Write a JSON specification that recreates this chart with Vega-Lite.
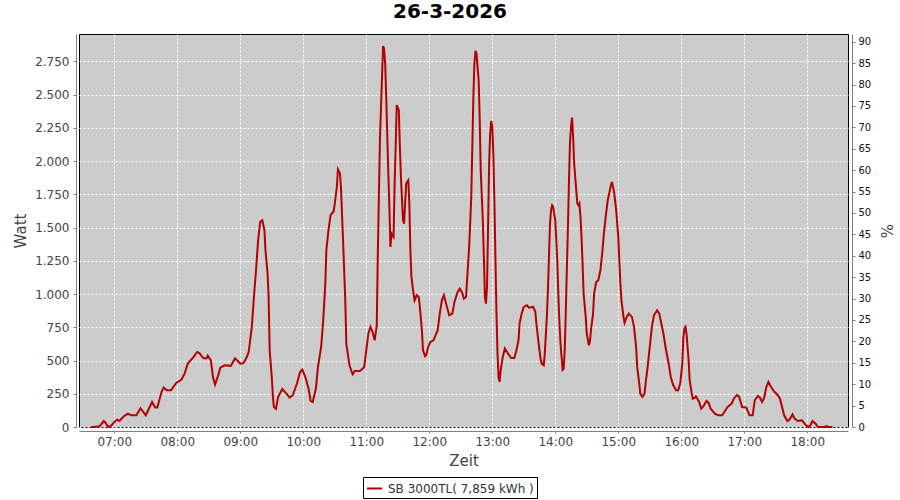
{
  "$schema": "https://vega.github.io/schema/vega-lite/v6.json",
  "autosize": {"type": "none"},
  "width": 769,
  "height": 393,
  "padding": {"left": 79, "top": 34, "right": 52, "bottom": 73},
  "background": "white",
  "title": {"text": "26-3-2026", "fontSize": 20, "fontWeight": "bold", "font": "DejaVu Sans", "color": "black", "anchor": "middle", "frame": "group", "offset": 12, "dx": -13.5},
  "config": {
    "view": {"stroke": "black", "strokeWidth": 1, "fill": "#cccccc"},
    "font": "DejaVu Sans",
    "axis": {
      "gridColor": "white", "gridDash": [2, 2], "gridWidth": 1, "gridOpacity": 1,
      "domainColor": "#808080", "tickColor": "#808080",
      "labelFont": "DejaVu Sans", "labelFontSize": 12, "labelColor": "#444444",
      "titleFont": "DejaVu Sans", "titleFontSize": 15, "titleFontWeight": "normal", "titleColor": "#444444"
    }
  },
  "layer": [
    {
      "data": {
        "values": [
          {"t":"2026-03-26T06:38","w":0},{"t":"2026-03-26T06:40","w":0},{"t":"2026-03-26T06:46","w":5},{"t":"2026-03-26T06:50","w":45},{"t":"2026-03-26T06:52","w":30},{"t":"2026-03-26T06:54","w":0},{"t":"2026-03-26T06:57","w":10},
          {"t":"2026-03-26T07:01","w":45},{"t":"2026-03-26T07:03","w":55},{"t":"2026-03-26T07:05","w":45},{"t":"2026-03-26T07:09","w":80},{"t":"2026-03-26T07:13","w":100},{"t":"2026-03-26T07:16","w":88},{"t":"2026-03-26T07:21","w":88},{"t":"2026-03-26T07:25","w":141},{"t":"2026-03-26T07:30","w":88},{"t":"2026-03-26T07:36","w":188},{"t":"2026-03-26T07:39","w":146},{"t":"2026-03-26T07:41","w":146},{"t":"2026-03-26T07:45","w":263},{"t":"2026-03-26T07:47","w":296},{"t":"2026-03-26T07:50","w":276},{"t":"2026-03-26T07:54","w":276},{"t":"2026-03-26T07:59","w":331},
          {"t":"2026-03-26T08:04","w":357},{"t":"2026-03-26T08:07","w":401},{"t":"2026-03-26T08:10","w":477},{"t":"2026-03-26T08:15","w":522},{"t":"2026-03-26T08:19","w":564},{"t":"2026-03-26T08:21","w":556},{"t":"2026-03-26T08:25","w":517},{"t":"2026-03-26T08:28","w":517},{"t":"2026-03-26T08:29","w":537},{"t":"2026-03-26T08:32","w":502},{"t":"2026-03-26T08:34","w":376},{"t":"2026-03-26T08:36","w":319},{"t":"2026-03-26T08:39","w":389},{"t":"2026-03-26T08:41","w":447},{"t":"2026-03-26T08:45","w":464},{"t":"2026-03-26T08:51","w":460},{"t":"2026-03-26T08:55","w":517},{"t":"2026-03-26T08:57","w":502},
          {"t":"2026-03-26T09:00","w":477},{"t":"2026-03-26T09:03","w":480},{"t":"2026-03-26T09:06","w":522},{"t":"2026-03-26T09:08","w":564},{"t":"2026-03-26T09:11","w":753},{"t":"2026-03-26T09:13","w":978},{"t":"2026-03-26T09:15","w":1179},{"t":"2026-03-26T09:17","w":1405},{"t":"2026-03-26T09:19","w":1543},{"t":"2026-03-26T09:21","w":1555},{"t":"2026-03-26T09:23","w":1480},{"t":"2026-03-26T09:24","w":1330},{"t":"2026-03-26T09:26","w":1154},{"t":"2026-03-26T09:27","w":978},{"t":"2026-03-26T09:28","w":577},{"t":"2026-03-26T09:30","w":376},{"t":"2026-03-26T09:31","w":239},{"t":"2026-03-26T09:32","w":150},{"t":"2026-03-26T09:34","w":136},{"t":"2026-03-26T09:36","w":226},{"t":"2026-03-26T09:40","w":286},{"t":"2026-03-26T09:44","w":251},{"t":"2026-03-26T09:47","w":221},{"t":"2026-03-26T09:50","w":239},{"t":"2026-03-26T09:54","w":327},{"t":"2026-03-26T09:57","w":414},{"t":"2026-03-26T09:59","w":432},
          {"t":"2026-03-26T10:02","w":376},{"t":"2026-03-26T10:05","w":289},{"t":"2026-03-26T10:07","w":196},{"t":"2026-03-26T10:09","w":188},{"t":"2026-03-26T10:12","w":289},{"t":"2026-03-26T10:14","w":452},{"t":"2026-03-26T10:17","w":602},{"t":"2026-03-26T10:19","w":803},{"t":"2026-03-26T10:21","w":1079},{"t":"2026-03-26T10:22","w":1330},{"t":"2026-03-26T10:24","w":1480},{"t":"2026-03-26T10:26","w":1593},{"t":"2026-03-26T10:29","w":1623},{"t":"2026-03-26T10:30","w":1681},{"t":"2026-03-26T10:32","w":1806},{"t":"2026-03-26T10:33","w":1937},{"t":"2026-03-26T10:35","w":1907},{"t":"2026-03-26T10:36","w":1781},{"t":"2026-03-26T10:38","w":1380},{"t":"2026-03-26T10:40","w":953},{"t":"2026-03-26T10:41","w":627},{"t":"2026-03-26T10:44","w":464},{"t":"2026-03-26T10:47","w":397},{"t":"2026-03-26T10:49","w":421},{"t":"2026-03-26T10:54","w":421},{"t":"2026-03-26T10:58","w":450},
          {"t":"2026-03-26T11:00","w":577},{"t":"2026-03-26T11:02","w":703},{"t":"2026-03-26T11:04","w":753},{"t":"2026-03-26T11:06","w":715},{"t":"2026-03-26T11:08","w":652},{"t":"2026-03-26T11:10","w":765},{"t":"2026-03-26T11:11","w":1305},{"t":"2026-03-26T11:12","w":1731},{"t":"2026-03-26T11:13","w":2157},{"t":"2026-03-26T11:15","w":2634},{"t":"2026-03-26T11:16","w":2865},{"t":"2026-03-26T11:17","w":2847},{"t":"2026-03-26T11:18","w":2734},{"t":"2026-03-26T11:19","w":2483},{"t":"2026-03-26T11:21","w":1907},{"t":"2026-03-26T11:22","w":1656},{"t":"2026-03-26T11:23","w":1355},{"t":"2026-03-26T11:24","w":1455},{"t":"2026-03-26T11:26","w":1430},{"t":"2026-03-26T11:27","w":1831},{"t":"2026-03-26T11:28","w":2107},{"t":"2026-03-26T11:29","w":2421},{"t":"2026-03-26T11:31","w":2383},{"t":"2026-03-26T11:32","w":2107},{"t":"2026-03-26T11:33","w":1881},{"t":"2026-03-26T11:35","w":1555},{"t":"2026-03-26T11:36","w":1530},{"t":"2026-03-26T11:37","w":1681},{"t":"2026-03-26T11:38","w":1831},{"t":"2026-03-26T11:40","w":1856},{"t":"2026-03-26T11:41","w":1681},{"t":"2026-03-26T11:42","w":1330},{"t":"2026-03-26T11:43","w":1129},{"t":"2026-03-26T11:45","w":1004},{"t":"2026-03-26T11:46","w":953},{"t":"2026-03-26T11:48","w":991},{"t":"2026-03-26T11:50","w":978},{"t":"2026-03-26T11:51","w":903},{"t":"2026-03-26T11:53","w":728},{"t":"2026-03-26T11:54","w":577},{"t":"2026-03-26T11:56","w":532},{"t":"2026-03-26T11:57","w":540},{"t":"2026-03-26T11:59","w":602},
          {"t":"2026-03-26T12:01","w":640},{"t":"2026-03-26T12:04","w":652},{"t":"2026-03-26T12:08","w":728},{"t":"2026-03-26T12:10","w":853},{"t":"2026-03-26T12:12","w":953},{"t":"2026-03-26T12:14","w":991},{"t":"2026-03-26T12:16","w":928},{"t":"2026-03-26T12:19","w":840},{"t":"2026-03-26T12:22","w":853},{"t":"2026-03-26T12:24","w":941},{"t":"2026-03-26T12:27","w":1016},{"t":"2026-03-26T12:29","w":1041},{"t":"2026-03-26T12:31","w":1016},{"t":"2026-03-26T12:33","w":966},{"t":"2026-03-26T12:35","w":978},{"t":"2026-03-26T12:36","w":1104},{"t":"2026-03-26T12:38","w":1355},{"t":"2026-03-26T12:40","w":1731},{"t":"2026-03-26T12:41","w":2107},{"t":"2026-03-26T12:42","w":2483},{"t":"2026-03-26T12:43","w":2734},{"t":"2026-03-26T12:44","w":2829},{"t":"2026-03-26T12:45","w":2809},{"t":"2026-03-26T12:47","w":2609},{"t":"2026-03-26T12:48","w":2333},{"t":"2026-03-26T12:49","w":1932},{"t":"2026-03-26T12:51","w":1555},{"t":"2026-03-26T12:52","w":1279},{"t":"2026-03-26T12:53","w":978},{"t":"2026-03-26T12:54","w":928},{"t":"2026-03-26T12:55","w":1054},{"t":"2026-03-26T12:56","w":1500},{"t":"2026-03-26T12:57","w":1982},{"t":"2026-03-26T12:58","w":2208},{"t":"2026-03-26T12:59","w":2303},
          {"t":"2026-03-26T13:00","w":2258},{"t":"2026-03-26T13:01","w":2069},{"t":"2026-03-26T13:02","w":1706},{"t":"2026-03-26T13:03","w":1279},{"t":"2026-03-26T13:04","w":853},{"t":"2026-03-26T13:05","w":552},{"t":"2026-03-26T13:06","w":376},{"t":"2026-03-26T13:07","w":340},{"t":"2026-03-26T13:08","w":427},{"t":"2026-03-26T13:10","w":527},{"t":"2026-03-26T13:12","w":590},{"t":"2026-03-26T13:15","w":552},{"t":"2026-03-26T13:18","w":519},{"t":"2026-03-26T13:21","w":519},{"t":"2026-03-26T13:23","w":577},{"t":"2026-03-26T13:25","w":652},{"t":"2026-03-26T13:26","w":778},{"t":"2026-03-26T13:28","w":853},{"t":"2026-03-26T13:30","w":903},{"t":"2026-03-26T13:33","w":916},{"t":"2026-03-26T13:35","w":897},{"t":"2026-03-26T13:39","w":903},{"t":"2026-03-26T13:41","w":866},{"t":"2026-03-26T13:42","w":778},{"t":"2026-03-26T13:44","w":640},{"t":"2026-03-26T13:46","w":515},{"t":"2026-03-26T13:47","w":477},{"t":"2026-03-26T13:49","w":464},{"t":"2026-03-26T13:50","w":552},{"t":"2026-03-26T13:52","w":828},{"t":"2026-03-26T13:53","w":1029},{"t":"2026-03-26T13:54","w":1279},{"t":"2026-03-26T13:55","w":1530},{"t":"2026-03-26T13:56","w":1631},{"t":"2026-03-26T13:57","w":1668},{"t":"2026-03-26T13:58","w":1656},
          {"t":"2026-03-26T14:00","w":1555},{"t":"2026-03-26T14:01","w":1405},{"t":"2026-03-26T14:02","w":1229},{"t":"2026-03-26T14:03","w":978},{"t":"2026-03-26T14:04","w":778},{"t":"2026-03-26T14:05","w":627},{"t":"2026-03-26T14:07","w":430},{"t":"2026-03-26T14:08","w":439},{"t":"2026-03-26T14:09","w":577},{"t":"2026-03-26T14:10","w":853},{"t":"2026-03-26T14:11","w":1179},{"t":"2026-03-26T14:12","w":1480},{"t":"2026-03-26T14:13","w":1831},{"t":"2026-03-26T14:14","w":2133},{"t":"2026-03-26T14:15","w":2258},{"t":"2026-03-26T14:16","w":2328},{"t":"2026-03-26T14:17","w":2182},{"t":"2026-03-26T14:18","w":1982},{"t":"2026-03-26T14:20","w":1781},{"t":"2026-03-26T14:21","w":1681},{"t":"2026-03-26T14:22","w":1668},{"t":"2026-03-26T14:23","w":1681},{"t":"2026-03-26T14:24","w":1580},{"t":"2026-03-26T14:25","w":1430},{"t":"2026-03-26T14:26","w":1229},{"t":"2026-03-26T14:27","w":1004},{"t":"2026-03-26T14:29","w":828},{"t":"2026-03-26T14:30","w":703},{"t":"2026-03-26T14:32","w":615},{"t":"2026-03-26T14:33","w":640},{"t":"2026-03-26T14:34","w":728},{"t":"2026-03-26T14:36","w":853},{"t":"2026-03-26T14:37","w":1004},{"t":"2026-03-26T14:39","w":1091},{"t":"2026-03-26T14:41","w":1104},{"t":"2026-03-26T14:43","w":1179},{"t":"2026-03-26T14:45","w":1330},{"t":"2026-03-26T14:46","w":1430},{"t":"2026-03-26T14:48","w":1580},{"t":"2026-03-26T14:50","w":1706},{"t":"2026-03-26T14:53","w":1818},{"t":"2026-03-26T14:54","w":1844},{"t":"2026-03-26T14:56","w":1768},{"t":"2026-03-26T14:58","w":1631},
          {"t":"2026-03-26T15:00","w":1430},{"t":"2026-03-26T15:01","w":1254},{"t":"2026-03-26T15:02","w":1079},{"t":"2026-03-26T15:03","w":953},{"t":"2026-03-26T15:05","w":828},{"t":"2026-03-26T15:06","w":783},{"t":"2026-03-26T15:08","w":828},{"t":"2026-03-26T15:10","w":853},{"t":"2026-03-26T15:13","w":828},{"t":"2026-03-26T15:15","w":753},{"t":"2026-03-26T15:17","w":602},{"t":"2026-03-26T15:18","w":452},{"t":"2026-03-26T15:20","w":327},{"t":"2026-03-26T15:21","w":251},{"t":"2026-03-26T15:23","w":226},{"t":"2026-03-26T15:25","w":251},{"t":"2026-03-26T15:26","w":327},{"t":"2026-03-26T15:28","w":452},{"t":"2026-03-26T15:30","w":602},{"t":"2026-03-26T15:32","w":753},{"t":"2026-03-26T15:34","w":840},{"t":"2026-03-26T15:37","w":878},{"t":"2026-03-26T15:39","w":853},{"t":"2026-03-26T15:41","w":778},{"t":"2026-03-26T15:43","w":703},{"t":"2026-03-26T15:45","w":602},{"t":"2026-03-26T15:48","w":477},{"t":"2026-03-26T15:50","w":376},{"t":"2026-03-26T15:52","w":321},{"t":"2026-03-26T15:55","w":276},{"t":"2026-03-26T15:57","w":276},{"t":"2026-03-26T15:59","w":327},
          {"t":"2026-03-26T16:01","w":477},{"t":"2026-03-26T16:02","w":677},{"t":"2026-03-26T16:03","w":740},{"t":"2026-03-26T16:04","w":753},{"t":"2026-03-26T16:05","w":703},{"t":"2026-03-26T16:07","w":502},{"t":"2026-03-26T16:08","w":352},{"t":"2026-03-26T16:10","w":251},{"t":"2026-03-26T16:11","w":213},{"t":"2026-03-26T16:13","w":221},{"t":"2026-03-26T16:14","w":231},{"t":"2026-03-26T16:17","w":188},{"t":"2026-03-26T16:19","w":138},{"t":"2026-03-26T16:21","w":155},{"t":"2026-03-26T16:24","w":196},{"t":"2026-03-26T16:26","w":181},{"t":"2026-03-26T16:28","w":138},{"t":"2026-03-26T16:32","w":100},{"t":"2026-03-26T16:35","w":88},{"t":"2026-03-26T16:39","w":88},{"t":"2026-03-26T16:41","w":113},{"t":"2026-03-26T16:44","w":150},{"t":"2026-03-26T16:48","w":176},{"t":"2026-03-26T16:50","w":213},{"t":"2026-03-26T16:53","w":240},{"t":"2026-03-26T16:55","w":230},{"t":"2026-03-26T16:58","w":150},
          {"t":"2026-03-26T17:02","w":146},{"t":"2026-03-26T17:05","w":88},{"t":"2026-03-26T17:08","w":88},{"t":"2026-03-26T17:10","w":201},{"t":"2026-03-26T17:13","w":233},{"t":"2026-03-26T17:15","w":220},{"t":"2026-03-26T17:17","w":188},{"t":"2026-03-26T17:19","w":220},{"t":"2026-03-26T17:21","w":301},{"t":"2026-03-26T17:23","w":339},{"t":"2026-03-26T17:25","w":309},{"t":"2026-03-26T17:28","w":271},{"t":"2026-03-26T17:32","w":239},{"t":"2026-03-26T17:34","w":213},{"t":"2026-03-26T17:36","w":150},{"t":"2026-03-26T17:38","w":88},{"t":"2026-03-26T17:41","w":45},{"t":"2026-03-26T17:43","w":55},{"t":"2026-03-26T17:46","w":95},{"t":"2026-03-26T17:48","w":63},{"t":"2026-03-26T17:51","w":45},{"t":"2026-03-26T17:55","w":50},{"t":"2026-03-26T17:58","w":20},
          {"t":"2026-03-26T18:01","w":0},{"t":"2026-03-26T18:03","w":13},{"t":"2026-03-26T18:05","w":45},{"t":"2026-03-26T18:08","w":25},{"t":"2026-03-26T18:10","w":0},{"t":"2026-03-26T18:17","w":0},{"t":"2026-03-26T18:18","w":8},{"t":"2026-03-26T18:20","w":0},{"t":"2026-03-26T18:24","w":0}
        ]
      },
      "mark": {"type": "line", "strokeWidth": 2},
      "encoding": {
        "x": {
          "field": "t", "type": "temporal",
          "scale": {"domain": [{"year": 2026, "month": 3, "date": 26, "hours": 6, "minutes": 26, "seconds": 24}, {"year": 2026, "month": 3, "date": 26, "hours": 18, "minutes": 38, "seconds": 48}], "nice": false},
          "axis": {"title": "Zeit", "format": "%H:%M", "values": [
            {"year": 2026, "month": 3, "date": 26, "hours": 7}, {"year": 2026, "month": 3, "date": 26, "hours": 8}, {"year": 2026, "month": 3, "date": 26, "hours": 9}, {"year": 2026, "month": 3, "date": 26, "hours": 10}, {"year": 2026, "month": 3, "date": 26, "hours": 11}, {"year": 2026, "month": 3, "date": 26, "hours": 12}, {"year": 2026, "month": 3, "date": 26, "hours": 13}, {"year": 2026, "month": 3, "date": 26, "hours": 14}, {"year": 2026, "month": 3, "date": 26, "hours": 15}, {"year": 2026, "month": 3, "date": 26, "hours": 16}, {"year": 2026, "month": 3, "date": 26, "hours": 17}, {"year": 2026, "month": 3, "date": 26, "hours": 18}],
            "offset": 4, "tickSize": 2, "labelPadding": 3, "titlePadding": 6, "grid": true, "labelFlush": false}
        },
        "y": {
          "field": "w", "type": "quantitative",
          "scale": {"domain": [0, 2956], "nice": false},
          "axis": {"title": "Watt", "values": [0, 250, 500, 750, 1000, 1250, 1500, 1750, 2000, 2250, 2500, 2750], "labelExpr": "replace(format(datum.value, ','), ',', '.')", "offset": 3, "tickSize": 3, "labelPadding": 4, "titlePadding": 6, "grid": true}
        },
        "color": {
          "datum": "SB 3000TL( 7,859 kWh )",
          "scale": {"range": ["#b40000"]},
          "legend": {"title": null, "orient": "none", "legendX": 284, "legendY": 443, "symbolType": "stroke", "symbolSize": 225, "symbolStrokeWidth": 2, "strokeColor": "black", "fillColor": "white", "padding": 3, "labelFontSize": 12, "labelColor": "#333333", "labelLimit": 0, "labelOffset": 5}
        }
      }
    },
    {
      "data": {"values": [{"p": 0}, {"p": 90}]},
      "mark": {"type": "point", "opacity": 0},
      "encoding": {
        "y": {
          "field": "p", "type": "quantitative",
          "scale": {"domain": [0, 91.8], "nice": false},
          "axis": {"title": "%", "orient": "right", "values": [0, 5, 10, 15, 20, 25, 30, 35, 40, 45, 50, 55, 60, 65, 70, 75, 80, 85, 90], "offset": 4, "tickSize": 3, "labelPadding": 3, "labelFontSize": 10, "labelColor": "#111111", "titlePadding": 7, "grid": false}
        }
      }
    }
  ],
  "resolve": {"scale": {"y": "independent"}}
}
